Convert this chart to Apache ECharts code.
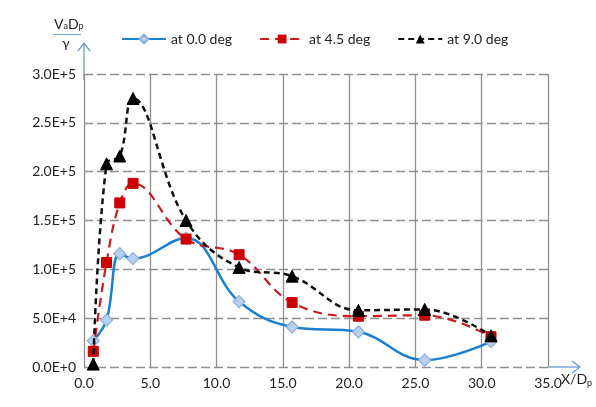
<!DOCTYPE html>
<html><head><meta charset="utf-8">
<script src="https://cdn.jsdelivr.net/npm/echarts@6/dist/echarts.min.js"></script>
<style>html,body{margin:0;padding:0;background:#fff}#c{width:596px;height:407px}</style>
</head><body><div id="c"></div>
<script>
var xPositions = [0.7, 1.7, 2.7, 3.7, 7.7, 11.7, 15.7, 20.7, 25.7, 30.7];
var deg00 = [27000, 48000, 116000, 111000, 132000, 67000, 41000, 36000, 7000, 26000];
var deg45 = [16000, 107000, 168000, 188000, 131000, 115000, 66000, 52000, 53000, 31000];
var deg90 = [3000, 208000, 216000, 275000, 150000, 102000, 93000, 58000, 59000, 32000];
var seriesNames = ['at 0.0 deg', 'at 4.5 deg', 'at 9.0 deg'];
var xTickLabels = ['0.0','5.0','10.0','15.0','20.0','25.0','30.0','35.0'];
var yTickLabels = ['0.0E+0','5.0E+4','1.0E+5','1.5E+5','2.0E+5','2.5E+5','3.0E+5'];

function pairs(ys){ return xPositions.map(function(x,i){ return [x, ys[i]]; }); }
var FONT = 'Lato, "Noto Sans", sans-serif';
var G = {left:84, right:48, top:74, bottom:40};
var W = 596, H = 407;
var axisBlue = '#6b9bd2';

var chart = echarts.init(document.getElementById('c'), null, {renderer:'canvas'});
chart.setOption({
  animation:false,
  backgroundColor:'#fff',
  grid:{left:G.left, right:G.right, top:G.top, bottom:G.bottom},
  legend:{
    top:27, left:116, itemGap:27, itemWidth:44, itemHeight:11,
    textStyle:{fontFamily:FONT, fontSize:14, color:'#222'},
    data:seriesNames
  },
  xAxis:{
    type:'value', min:0, max:35, interval:5,
    axisLine:{show:false}, axisTick:{show:false},
    axisLabel:{fontFamily:FONT, fontSize:14, color:'#222', margin:9,
      formatter:function(v){ return xTickLabels[Math.round(v/5)]; }},
    splitLine:{show:true, lineStyle:{color:'#8f8f8f', width:1.3, type:'solid'}}
  },
  yAxis:{
    type:'value', min:0, max:300000, interval:50000,
    axisLine:{show:false}, axisTick:{show:false},
    axisLabel:{fontFamily:FONT, fontSize:14, color:'#222', margin:8,
      formatter:function(v){ return yTickLabels[Math.round(v/50000)]; }},
    splitLine:{show:true, lineStyle:{color:'#8f8f8f', width:1.3, type:[9,4]}}
  },
  series:[
    {name:seriesNames[0], type:'line', data:pairs(deg00), smooth:0.4,
      symbol:'diamond', symbolSize:12,
      lineStyle:{color:'#1a7fd0', width:2.5},
      itemStyle:{color:'#b8d0ee', borderColor:'#88aee0', borderWidth:1.2}, z:3},
    {name:seriesNames[1], type:'line', data:pairs(deg45), smooth:0.4,
      symbol:'rect', symbolSize:10,
      lineStyle:{color:'#cc1a1a', width:2.2, type:[9,6]},
      itemStyle:{color:'#cc0000', borderColor:'#cc0000'}, z:4},
    {name:seriesNames[2], type:'line', data:pairs(deg90), smooth:0.4,
      symbol:'triangle', symbolSize:12,
      lineStyle:{color:'#111', width:2.5, type:[6,4]},
      itemStyle:{color:'#000', borderColor:'#000'}, z:5}
  ],
  graphic:[
    {type:'line', shape:{x1:G.left, y1:G.top+6, x2:G.left, y2:43}, style:{stroke:axisBlue, lineWidth:1.3}},
    {type:'polyline', shape:{points:[[G.left-6,51],[G.left,43],[G.left+6,51]]}, style:{stroke:axisBlue, lineWidth:1.3, fill:null}},
    {type:'line', shape:{x1:W-G.right, y1:H-G.bottom, x2:580, y2:H-G.bottom}, style:{stroke:axisBlue, lineWidth:1.3}},
    {type:'polyline', shape:{points:[[572,H-G.bottom-6],[580,H-G.bottom],[572,H-G.bottom+6]]}, style:{stroke:axisBlue, lineWidth:1.3, fill:null}},
    {type:'text', left:54, top:17, style:{
      text:'{m|V}{s|a}{m|D}{s|p}', fill:'#222',
      rich:{m:{fontFamily:FONT, fontSize:14, fill:'#222', verticalAlign:'bottom'}, s:{fontFamily:FONT, fontSize:9, fill:'#222', padding:[6,0,0,0], verticalAlign:'bottom'}}}},
    {type:'line', shape:{x1:53, y1:34.5, x2:81, y2:34.5}, style:{stroke:'#7aa6d8', lineWidth:1}},
    {type:'text', left:62, top:36, style:{text:'γ', fontFamily:FONT, fontSize:14, fill:'#222'}},
    {type:'text', left:561, top:372, style:{
      text:'{m|X/D}{s|p}',
      rich:{m:{fontFamily:FONT, fontSize:14, fill:'#222'}, s:{fontFamily:FONT, fontSize:9, fill:'#222', padding:[8,0,0,0]}}}}
  ]
});
</script></body></html>
